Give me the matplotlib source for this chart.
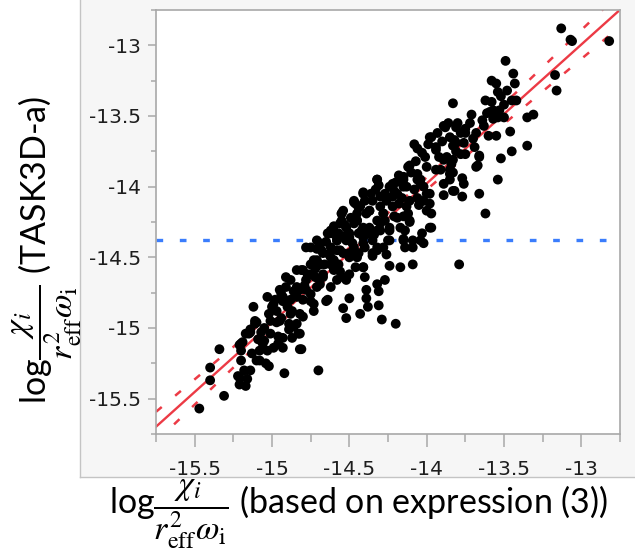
import matplotlib

matplotlib.use("Agg")
import matplotlib.pyplot as plt
import numpy as np
from matplotlib.lines import Line2D
from matplotlib.patches import Rectangle
from matplotlib.ticker import MultipleLocator

# Values (log of chi_i / (r_eff^2 omega_i)).
# Low end of the cloud
low_x = [
    -15.47, -15.31, -15.40, -15.40, -15.34, -15.21, -15.21, -15.22, -15.16, -15.14,
    -15.20, -15.20, -15.20, -15.15, -15.10, -15.13, -15.08, -15.02, -14.92, -15.12,
    -15.10, -15.14, -15.07, -15.05, -15.03, -14.99, -14.96, -14.93, -15.03, -14.98,
    -15.02, -15.01, -14.97, -14.94, -15.18, -15.17, -15.21, -15.17, -15.11, -15.04,
    -14.96, -14.82, -15.00, -14.93, -14.89, -14.87, -14.95, -14.93, -14.88, -14.99,
    -14.95, -14.86, -14.82, -14.93, -15.01, -15.11, -15.14, -15.19, -15.06, -15.08,
]
low_y = [
    -15.57, -15.48, -15.37, -15.28, -15.15, -15.40, -15.35, -15.34, -15.36, -15.30,
    -15.23, -15.16, -15.11, -15.04, -15.23, -15.18, -15.16, -15.27, -15.32, -14.85,
    -14.96, -15.01, -15.03, -15.09, -15.16, -15.14, -15.06, -15.14, -14.78, -14.80,
    -14.90, -14.95, -14.88, -14.93, -15.30, -15.41, -15.12, -15.04, -14.97, -15.25,
    -15.11, -15.15, -14.85, -14.78, -14.97, -15.07, -14.73, -14.81, -14.90, -14.83,
    -14.95, -14.99, -15.04, -15.07, -15.04, -14.95, -15.03, -15.10, -15.11, -15.23,
]

# Dense middle of the cloud
mid_x = [
    -14.91, -14.94, -14.88, -14.91, -14.84, -14.87, -14.89, -14.84, -14.83, -14.81,
    -14.80, -14.80, -14.82, -14.78, -14.75, -14.73, -14.80, -14.75, -14.71, -14.72,
    -14.69, -14.67, -14.64, -14.62, -14.78, -14.71, -14.67, -14.62, -14.65, -14.62,
    -14.58, -14.58, -14.57, -14.54, -14.58, -14.60, -14.55, -14.56, -14.52, -14.50,
    -14.52, -14.47, -14.50, -14.46, -14.50, -14.45, -14.41, -14.47, -14.43, -14.39,
    -14.41, -14.44, -14.37, -14.40, -14.41, -14.40, -14.39, -14.39, -14.32, -14.31,
    -14.35, -14.30, -14.28, -14.32, -14.30, -14.35, -14.35, -14.28, -14.25, -14.24,
    -14.26, -14.24, -14.20, -14.19, -14.18,
    -14.46, -14.55, -14.53, -14.45, -14.37, -14.32, -14.41, -14.58, -14.64, -14.69,
    -14.75, -14.62, -14.56, -14.50, -14.60, -14.69, -14.73, -14.81, -14.75, -14.67,
    -14.56, -14.52, -14.41, -14.88, -14.84, -14.78, -14.71, -14.65, -14.75, -14.73,
    -14.82, -14.32, -14.32,
    -14.15, -14.22, -14.32, -14.41, -14.47, -14.30, -14.22, -14.19, -14.28, -14.37,
    -14.45, -14.54, -14.55, -14.47, -14.37, -14.30, -14.24, -14.17, -14.62, -14.71,
    -14.58, -14.50, -14.41, -14.32, -14.45, -14.54, -14.62, -14.69, -14.35, -14.24,
    -14.15,
]
mid_y = [
    -14.71, -14.76, -14.80, -14.64, -14.59, -14.88, -15.01, -14.97, -15.04, -15.15,
    -14.92, -14.80, -14.73, -14.66, -14.76, -14.83, -14.59, -14.55, -14.52, -14.64,
    -14.69, -14.62, -14.80, -14.71, -14.43, -14.44, -14.47, -14.55, -14.39, -14.33,
    -14.38, -14.45, -14.55, -14.64, -14.66, -14.59, -14.19, -14.26, -14.29, -14.33,
    -14.38, -14.43, -14.50, -14.57, -14.62, -14.24, -14.05, -14.11, -14.14, -14.19,
    -14.29, -14.33, -14.33, -14.43, -14.57, -14.64, -14.73, -14.79, -13.95, -13.99,
    -14.10, -14.14, -14.19, -14.24, -14.31, -14.38, -14.47, -14.43, -14.38, -14.29,
    -14.10, -14.00, -13.97, -14.05, -14.12,
    -14.12, -14.19, -14.27, -14.24, -14.17, -14.31, -14.36, -14.36, -14.33, -14.40,
    -14.43, -14.43, -14.45, -14.47, -14.52, -14.55, -14.52, -14.59, -14.62, -14.64,
    -14.60, -14.66, -14.57, -14.66, -14.71, -14.73, -14.71, -14.81, -14.81, -14.88,
    -14.90, -14.45, -14.69,
    -13.93, -13.98, -13.95, -14.04, -14.10, -14.07, -14.07, -14.22, -14.19, -14.17,
    -14.19, -14.17, -14.24, -14.26, -14.29, -14.26, -14.31, -14.29, -14.31, -14.38,
    -14.38, -14.36, -14.40, -14.43, -14.50, -14.47, -14.50, -14.55, -14.49, -14.38,
    -14.37,
]

# Extra points filling the solid-black core of the band
core_x = [
    -14.60, -14.57, -14.53, -14.49, -14.44, -14.40, -14.36, -14.33, -14.27, -14.21,
    -14.18, -14.10, -14.07, -14.03, -13.99, -13.93, -13.90, -13.86, -13.80, -13.72,
    -13.70, -13.63, -13.58, -13.50, -13.52, -14.66, -14.63, -14.68, -14.72, -14.77,
    -14.79, -14.84, -14.86, -14.90, -14.97, -15.05, -15.09, -14.44, -14.48, -14.42,
    -14.34, -14.27, -14.21, -14.22, -14.16, -14.08, -14.05, -14.12, -14.26,
]
core_y = [
    -14.28, -14.33, -14.35, -14.22, -14.15, -14.10, -14.05, -14.02, -14.05, -14.03,
    -13.92, -13.90, -13.82, -13.76, -13.70, -13.62, -13.68, -13.55, -13.55, -13.55,
    -13.66, -13.57, -13.40, -13.42, -13.36, -14.55, -14.48, -14.45, -14.58, -14.62,
    -14.70, -14.78, -14.74, -14.85, -14.96, -15.00, -15.08, -14.47, -14.40, -14.31,
    -14.34, -14.24, -14.21, -14.14, -14.08, -14.02, -14.13, -14.19, -14.48,
]

# Upper end of the cloud
high_x = [
    -14.15, -14.13, -14.15, -14.11, -14.14, -14.15, -14.09, -14.14, -14.12, -14.08,
    -14.06, -14.06, -14.04, -14.01, -14.00, -14.02, -14.00, -14.02, -13.98, -13.97,
    -13.98, -14.03, -14.04, -14.02, -13.97, -13.94, -13.92, -13.89, -13.91, -13.88,
    -13.83, -13.85, -13.82, -13.78, -13.75, -13.76, -13.75, -13.81, -13.84, -13.83,
    -13.85, -13.89, -13.82, -13.76, -13.77, -13.71, -13.68, -13.69, -13.66, -13.67,
    -13.66, -13.62, -13.64, -13.62, -13.61, -13.58, -13.57, -13.55, -13.54, -13.53,
    -13.54, -13.60, -13.55, -13.52, -13.54, -13.49, -13.44, -13.43, -13.48, -13.45,
    -13.42, -13.46, -13.45, -13.35, -13.31, -13.35, -13.17, -13.16, -13.13, -13.07,
    -13.06, -12.82,
    -13.50, -13.59, -13.57, -13.89, -13.81, -13.75, -13.98, -13.83, -13.66, -13.68,
    -13.83, -13.78, -14.11, -13.94, -13.85, -13.77, -13.89, -13.83, -14.15, -14.04,
    -13.98, -14.06, -13.94, -13.87, -13.81, -13.85, -14.06, -14.13, -14.11, -14.00,
    -14.11, -14.09,
]
high_y = [
    -14.00, -14.14, -14.21, -14.25, -14.31, -14.38, -14.38, -14.43, -13.86, -13.70,
    -13.73, -13.91, -13.95, -13.79, -13.86, -14.00, -14.05, -14.10, -14.12, -14.19,
    -14.29, -14.33, -14.38, -14.40, -13.65, -13.72, -13.79, -13.81, -13.88, -13.58,
    -13.41, -13.65, -13.67, -13.62, -13.59, -13.69, -13.77, -13.75, -13.84, -13.90,
    -13.95, -14.06, -14.03, -13.98, -14.07, -13.49, -13.62, -13.72, -13.78, -13.85,
    -14.05, -14.19, -13.53, -13.39, -13.48, -13.25, -13.46, -13.27, -13.33, -13.46,
    -13.51, -13.64, -13.64, -13.80, -13.95, -13.11, -13.20, -13.27, -13.32, -13.39,
    -13.39, -13.61, -13.75, -13.51, -13.49, -13.71, -13.21, -13.32, -12.88, -12.96,
    -12.97, -12.97,
    -13.51, -13.47, -13.52, -13.57, -13.58, -13.62, -13.65, -13.71, -13.79, -13.86,
    -13.81, -13.77, -13.85, -13.88, -13.91, -13.94, -13.98, -14.03, -13.95, -13.98,
    -14.05, -14.08, -13.74, -13.79, -13.69, -13.88, -13.95, -14.00, -14.10, -14.17,
    -14.24, -14.43,
]

# Points that fall well below the trend
off_x = [
    -14.70, -14.54, -14.50, -14.52, -14.43, -14.38, -14.31, -14.29, -14.20, -14.31,
    -14.27, -14.24, -14.17, -14.09, -13.97, -13.79,
]
off_y = [
    -15.30, -14.86, -14.79, -14.93, -14.90, -14.85, -14.84, -14.94, -14.97, -14.74,
    -14.66, -14.56, -14.57, -14.55, -14.29, -14.55,
]

threshold = -14.38
axis_limits = (-15.75, -12.75)
major_ticks = [-15.5, -15.0, -14.5, -14.0, -13.5, -13.0]
major_labels = ["-15.5", "-15", "-14.5", "-14", "-13.5", "-13"]
t_band = 3.3  # two-sided 99.9 % t value for the confidence curves

x = np.array(low_x + mid_x + core_x + high_x + off_x)
y = np.array(low_y + mid_y + core_y + high_y + off_y)

# least squares fit and confidence curves of the fitted mean
slope, intercept = np.polyfit(x, y, 1)
n = len(x)
resid = y - (slope * x + intercept)
s_err = np.sqrt(np.sum(resid**2) / (n - 2))
x_mean = x.mean()
sxx = np.sum((x - x_mean) ** 2)
grid = np.linspace(axis_limits[0], axis_limits[1], 200)
fit = slope * grid + intercept
half = t_band * s_err * np.sqrt(1.0 / n + (grid - x_mean) ** 2 / sxx)

plt.rcParams["mathtext.fontset"] = "stix"

fig = plt.figure(figsize=(6.35, 5.52), dpi=100)

# light grey panel behind the plot and tick labels
fig.patches.append(
    Rectangle((80 / 635, 1 - 477 / 552), 1.0, 1.0, transform=fig.transFigure,
              facecolor="#f6f6f6", edgecolor="none", zorder=-2)
)
fig.lines.append(Line2D([80 / 635, 80 / 635], [1 - 477 / 552, 1.0], transform=fig.transFigure,
                        color="#c4c4c4", lw=1.0, zorder=-1))
fig.lines.append(Line2D([80 / 635, 1.0], [1 - 477 / 552, 1 - 477 / 552], transform=fig.transFigure,
                        color="#c4c4c4", lw=1.0, zorder=-1))

ax = fig.add_axes([156 / 635, 1 - 434 / 552, 464 / 635, 424 / 552])
ax.set_zorder(2)
ax.set_facecolor("white")

red = "#ec3a45"
ax.plot(grid, fit, color=red, lw=1.7, zorder=2)
for sign in (-1, 1):
    ax.plot(grid, fit + sign * half, color=red, lw=1.8, ls=(0, (3, 7)), zorder=2)
ax.axhline(threshold, color="#3b7dfc", lw=2.4, ls=(0, (2, 5)), zorder=1)
ax.scatter(x, y, s=50, color="black", edgecolors="none", zorder=3)

ax.set_xlim(*axis_limits)
ax.set_ylim(*axis_limits)
ax.set_xticks(major_ticks)
ax.set_xticklabels(major_labels)
ax.set_yticks(major_ticks)
ax.set_yticklabels(major_labels)
ax.xaxis.set_minor_locator(MultipleLocator(0.25))
ax.yaxis.set_minor_locator(MultipleLocator(0.25))

spine_color = "#a8a8a8"
for spine in ax.spines.values():
    spine.set_color(spine_color)
    spine.set_linewidth(1.2)

ax.tick_params(axis="both", which="both", color=spine_color, width=1.1,
               labelcolor="#1e1e1e", labelsize=14.5, direction="out")
ax.tick_params(axis="x", which="major", length=9.5, pad=9)
ax.tick_params(axis="x", which="minor", length=6)
ax.tick_params(axis="y", which="major", length=6, pad=5)
ax.tick_params(axis="y", which="minor", length=3.5)

frac = r"$\dfrac{\chi_i}{r_{\mathrm{eff}}^{2}\omega_{\mathrm{i}}}$"
fig.text(0.565, 0.068, "log" + frac + " (based on expression (3))", fontsize=24.5,
         family="Lato", ha="center", va="center")
fig.text(0.074, 0.548, "log" + frac + " (TASK3D-a)", fontsize=24.5, family="Lato",
         ha="center", va="center", rotation=90)

fig.savefig("out.png", dpi=100)
